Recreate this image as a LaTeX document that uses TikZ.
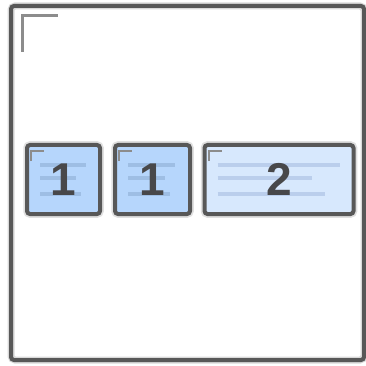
\documentclass[tikz,border=0pt]{standalone}
\usepackage{fontspec}
\setmainfont{Liberation Sans}
\usetikzlibrary{positioning, calc}
\definecolor{frameGray}{RGB}{88,88,88}
\definecolor{markGray}{RGB}{140,140,140}
\definecolor{digitGray}{RGB}{72,72,74}
\definecolor{cellBlue}{RGB}{182,214,252}
\colorlet{cellPale}{cellBlue!55}
\definecolor{lineBlue}{RGB}{158,190,228}
\definecolor{linePale}{RGB}{186,206,236}
\tikzset{
  cell/.style={draw=frameGray, line width=4pt, rounded corners=3pt, inner sep=0pt,
    minimum height=69pt, preaction={draw=black!12, line width=7.5pt}},
  digit/.style={font=\fontsize{46}{46}\selectfont\bfseries, text=digitGray, inner sep=0pt},
  ticks/.style={markGray, line width=2pt}
}

\begin{document}
\begin{tikzpicture}[x=1pt, y=-1pt]
  \useasboundingbox (0,0) rectangle (365,366);
  % outer container
  \draw[black!15, line width=7pt, rounded corners=4pt] (11,6) rectangle (364,360);
  \draw[frameGray, line width=4pt, rounded corners=3pt] (11,6) rectangle (364,360);
  \draw[markGray, line width=3pt] (22,52) -- (22,16) -- (58,16);
  % the three cells
  \node[cell, fill=cellBlue, minimum width=73pt] (cellA) at (63.5,179.5) {};
  \node[cell, fill=cellBlue, minimum width=75pt, right=11pt of cellA] (cellB) {};
  \node[cell, fill=cellPale, minimum width=149pt, right=10.5pt of cellB] (cellC) {};
  % placeholder text lines
  \foreach \c/\col/\a/\b/\d in {cellA/lineBlue/46/36/41, cellB/lineBlue/47/37/42, cellC/linePale/122/94/107} {
    \draw[\col, line width=4pt] ($(\c.north west)+(15,22)$) -- ++(\a,0);
    \draw[\col, line width=4pt] ($(\c.north west)+(15,35)$) -- ++(\b,0);
    \draw[\col, line width=4pt] ($(\c.north west)+(15,51)$) -- ++(\d,0);
    \draw[ticks] ($(\c.north west)+(6,18)$) -- ++(0,-10) -- ++(13,0);
  }
  \node[digit] (numA) at (cellA) {1};
  \node[digit] (numB) at (cellB) {1};
  \node[digit] (numC) at (cellC) {2};
\end{tikzpicture}
\end{document}
